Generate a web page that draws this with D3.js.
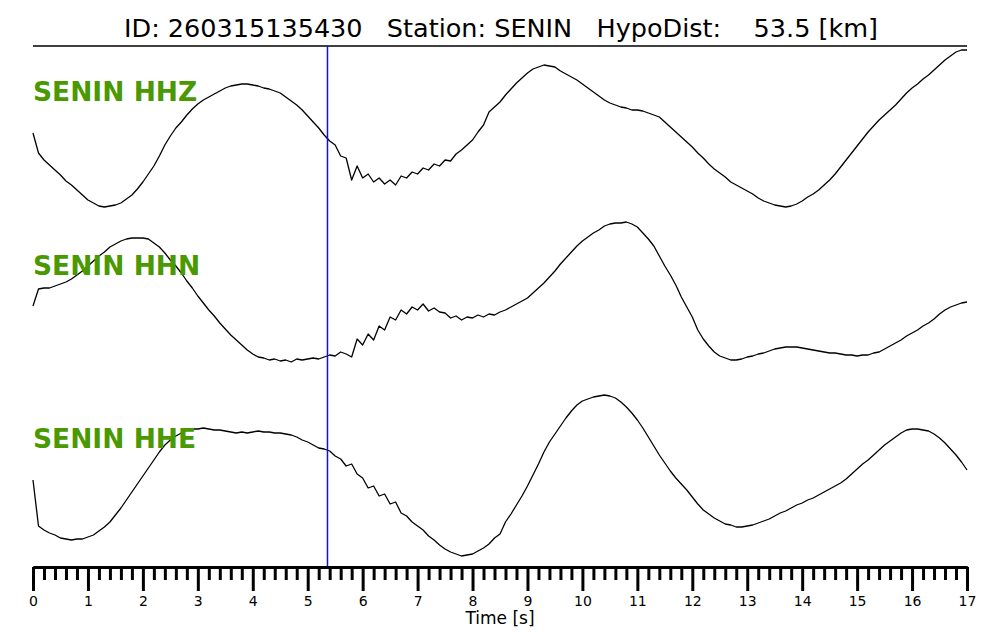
<!DOCTYPE html>
<html>
<head>
<meta charset="utf-8">
<script src="https://cdn.jsdelivr.net/npm/d3@7"></script>
<style>
  body { margin: 0; background: #fff; }
  text { font-family: "DejaVu Sans", sans-serif; }
</style>
</head>
<body>
<svg id="chart" width="1000" height="640"></svg>
<script>
// sampling step of the traces, seconds
const dt = 0.1;

// trace amplitudes (arbitrary counts, positive up), one sample every dt
const hhz = [67,47,40,35,30,25,19,15,10,5, 0,-3,-6,-7,-6,-5,-3,1,5,11,
  18,26,34,44,55,64,72,78,85,91, 96,100,103,106,109,112,114,115,116,116,
  115,114,112,111,109,107,103,99,95,90, 84,78,72,65,59,55,44,42,20,34,
  22,26,18,22,16,20,15,24,22,28, 26,32,30,36,34,40,39,46,50,55,
  60,68,75,88,93,98,105,111,117,122, 127,131,133,135,134,133,129,126,123,120,
  116,112,108,104,100,97,95,93,92,90, 90,89,87,85,83,78,73,68,63,58,
  53,47,42,36,31,27,23,18,15,12, 9,6,2,-1,-3,-5,-6,-7,-6,-4,
  -1,3,6,10,15,20,26,33,40,47, 54,61,68,74,80,85,90,95,101,107,
  112,116,121,125,130,135,140,144,148,150, 150];

const hhn = [64,81,82,82,84,86,88,91,95,99, 104,109,114,118,123,126,129,131,132,132,
  132,131,127,123,117,110,104,97,89,82, 74,67,60,54,47,41,35,30,25,20,
  16,13,12,10,11,9,10,8,11,10, 11,12,11,13,15,14,18,16,13,31,
  25,36,30,44,40,53,50,60,56,63, 60,66,59,62,58,57,52,54,50,53,
  52,55,53,56,55,58,60,63,66,69, 72,77,82,87,93,99,106,112,118,124,
  129,133,137,140,144,146,147,147,148,146, 143,137,131,124,114,104,95,85,73,63,
  53,40,31,24,18,14,12,10,10,11, 13,14,16,17,19,21,22,23,23,23,
  22,21,20,19,18,17,17,16,15,15, 14,15,15,17,18,21,24,27,30,34,
  37,40,44,47,51,56,60,63,65,67, 68];

const hhe = [80,34,30,27,25,22,21,20,21,21, 23,25,29,33,38,45,52,60,68,76,
  84,92,100,108,115,120,124,127,130,131, 131,132,131,130,130,129,128,127,128,127,
  128,129,128,128,127,127,126,125,123,120, 118,115,112,111,109,104,101,94,96,86,
  82,72,74,64,66,56,58,47,44,38, 34,30,24,20,15,11,8,6,4,5,
  6,9,12,16,22,26,38,46,55,64, 74,85,96,108,118,126,134,142,149,155,
  159,161,163,164,165,164,162,158,153,147, 140,132,123,114,105,97,89,82,76,70,
  63,56,50,46,42,39,36,35,33,33, 34,35,37,39,41,44,47,49,52,55,
  57,60,62,65,68,71,74,77,81,86, 91,96,100,105,110,115,119,123,127,130,
  131,131,130,129,126,122,117,111,105,98, 90];

const channels = ["SENIN HHZ", "SENIN HHN", "SENIN HHE"];
const ampDomains = [[-10, 150], [0, 150], [0, 170]];
const pickTime = 5.36;
const majorTicks = d3.range(0, 18, 1);
const minorTicks = d3.range(0, 85, 1).map(i => i / 5).filter(t => t % 1 !== 0);
const titleText = "ID: 260315135430   Station: SENIN   HypoDist:    53.5 [km]";

const svg = d3.select("#chart");
const left = 33, right = 967, axisY = 567;

// pixel bands for each trace (bottom, top)
const bands = [[210, 50], [370, 220], [560, 390]];
const labelY = [101, 275, 448];

const x = d3.scaleLinear().domain([0, 17]).range([left, right]);

// title and rule under it
svg.append("text")
    .attr("x", 501)
    .attr("y", 37)
    .attr("text-anchor", "middle")
    .style("font-size", "25.5px")
    .style("white-space", "pre")
    .text(titleText);

svg.append("line")
    .attr("x1", left).attr("x2", right)
    .attr("y1", 46).attr("y2", 46)
    .style("stroke", "#000")
    .style("stroke-width", 1.6);

// traces
const traces = [hhz, hhn, hhe];
traces.forEach((vals, i) => {
    const y = d3.scaleLinear().domain(ampDomains[i]).range(bands[i]);
    const line = d3.line()
        .x((d, j) => x(j * dt))
        .y(d => y(d));
    svg.append("path")
        .datum(vals)
        .attr("d", line)
        .style("fill", "none")
        .style("stroke", "#000")
        .style("stroke-width", 1.3)
        .style("stroke-linejoin", "round");
});

// pick line
svg.append("line")
    .attr("x1", x(pickTime)).attr("x2", x(pickTime))
    .attr("y1", 46).attr("y2", axisY)
    .style("stroke", "#1010e0")
    .style("stroke-width", 1.5);

// channel labels
channels.forEach((c, i) => {
    svg.append("text")
        .attr("x", left)
        .attr("y", labelY[i])
        .style("font-size", "26.5px")
        .style("font-weight", "bold")
        .style("fill", "#4a9900")
        .text(c);
});

// time axis: minor then major ticks
const minorAxis = d3.axisBottom(x)
    .tickValues(minorTicks)
    .tickSize(13)
    .tickSizeOuter(0)
    .tickFormat("");
svg.append("g")
    .attr("transform", `translate(0,${axisY})`)
    .call(minorAxis);

const majorAxis = d3.axisBottom(x)
    .tickValues(majorTicks)
    .tickSize(24)
    .tickSizeOuter(0)
    .tickPadding(5)
    .tickFormat(d3.format("d"));
const gMajor = svg.append("g")
    .attr("transform", `translate(0,${axisY})`)
    .call(majorAxis);

svg.selectAll(".domain, .tick line")
    .style("stroke", "#000")
    .style("stroke-width", 3);
gMajor.selectAll("text")
    .style("font-family", "DejaVu Sans, sans-serif")
    .style("font-size", "14px")
    .style("fill", "#000");

svg.append("text")
    .attr("x", 500)
    .attr("y", 624)
    .attr("text-anchor", "middle")
    .style("font-size", "17px")
    .text("Time [s]");
</script>
</body>
</html>
